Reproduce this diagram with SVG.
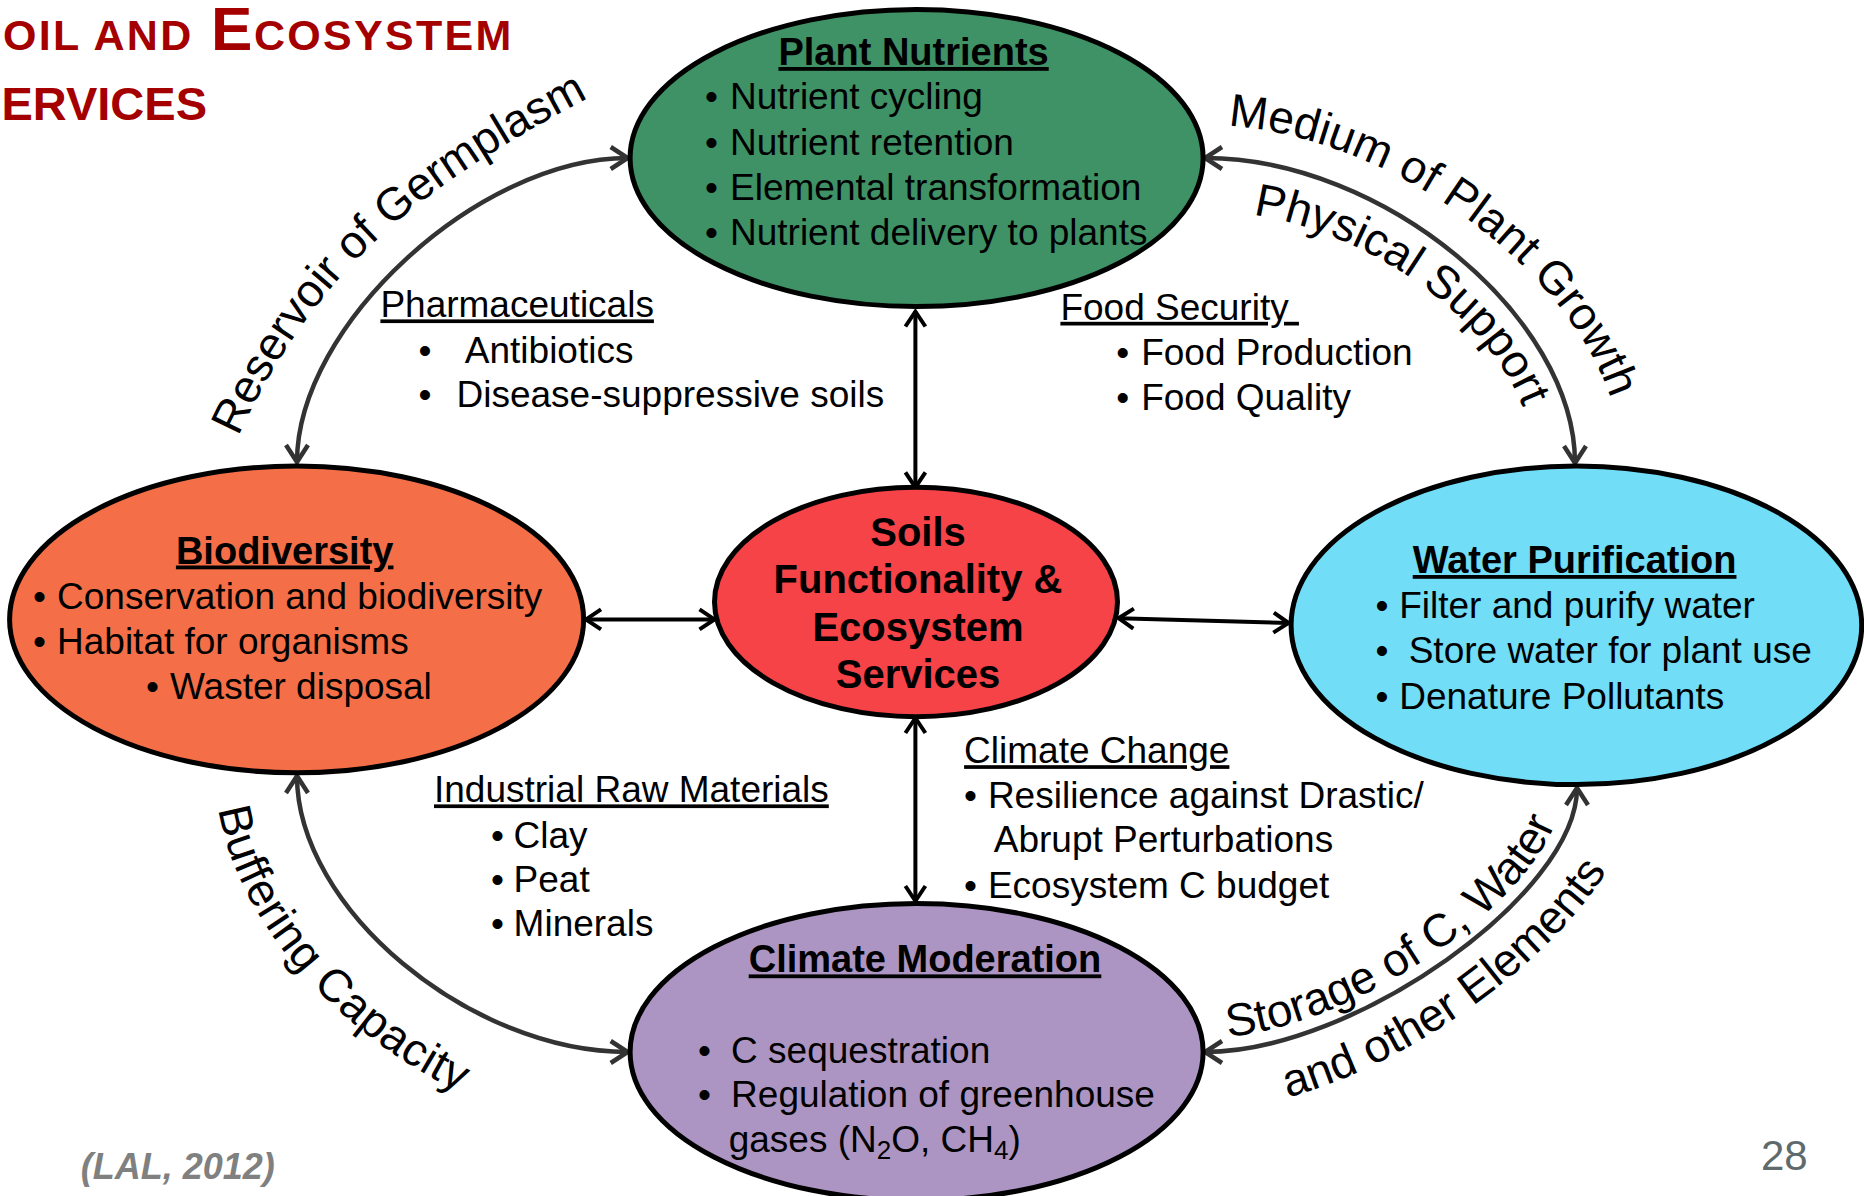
<svg xmlns="http://www.w3.org/2000/svg" width="1864" height="1196" viewBox="0 0 1864 1196">
  <style>
    text { font-family: "Liberation Sans", Arial, sans-serif; }
    .t { font-size: 37px; fill: #000; }
    .h { font-size: 38px; font-weight: bold; text-decoration: underline; text-anchor: middle; }
    .u { text-decoration: underline; }
    .core { font-size: 40px; font-weight: bold; text-anchor: middle; }
    .ttl { font-weight: bold; fill: #A50000; }
    .big { font-size: 62px; }
    .sc { font-size: 43px; letter-spacing: 2.3px; }
    .node { stroke: #000; stroke-width: 5; }
    .conn { fill: none; stroke: #333; stroke-width: 4.5; marker-start: url(#arrGray); marker-end: url(#arrGray); }
    .link { fill: none; stroke: #000; stroke-width: 4; marker-start: url(#arrBlack); marker-end: url(#arrBlack); }
    .arc { font-size: 46px; fill: #000; }
  </style>
  <defs>
    <marker id="arrGray" markerUnits="userSpaceOnUse" markerWidth="40" markerHeight="40" viewBox="-24 -20 40 40" refX="0" refY="0" orient="auto-start-reverse" overflow="visible">
      <path d="M-17,-11 L0,0 L-17,11" fill="none" stroke="#333" stroke-width="4.5" stroke-linejoin="miter"/>
    </marker>
    <marker id="arrBlack" markerUnits="userSpaceOnUse" markerWidth="40" markerHeight="40" viewBox="-24 -20 40 40" refX="0" refY="0" orient="auto-start-reverse" overflow="visible">
      <path d="M-15,-10 L0,0 L-15,10" fill="none" stroke="#000" stroke-width="4" stroke-linejoin="miter"/>
    </marker>
    <!-- baselines for the curved labels -->
    <path id="pGerm" d="M238,437 C318,265 422,186 590,97"/>
    <path id="pMedium" d="M1205,125 C1398,125 1622,301 1622,463"/>
    <path id="pPhys" d="M1205,211 C1363,211 1534,340 1534,463"/>
    <path id="pBuff" d="M216,776 C216,947 430,1133 628,1133"/>
    <path id="pStore" d="M1205,1038 C1349,1038 1563,889 1563,788"/>
    <path id="pOther" d="M1205,1110 C1377,1110 1635,917 1635,788"/>
  </defs>

  <rect width="1864" height="1196" fill="#fff"/>

  <!-- slide title, running off the left edge -->
  <g id="title">
    <text class="ttl big" x="-42" y="50">S</text>
    <text class="ttl sc" x="3" y="50">OIL AND</text>
    <text class="ttl big" x="211" y="50">E</text>
    <text class="ttl sc" x="254" y="50">COSYSTEM</text>
    <text class="ttl" x="-33" y="120" font-size="47">S</text>
    <text class="ttl" x="1.5" y="120" font-size="47">ERVICES</text>
  </g>

  <!-- connectors -->
  <g id="connectors">
    <path class="conn" d="M297,462 C297,325 479,158 627.7,158"/>
    <path class="conn" d="M1205,158 C1383,158 1575,317 1575,463"/>
    <path class="conn" d="M297,776 C297,908 469,1052 627.7,1052"/>
    <path class="conn" d="M1205,1052 C1354,1052 1577,894 1577,788"/>
    <line class="link" x1="915.4" y1="311.5" x2="915.4" y2="487.4"/>
    <line class="link" x1="915.4" y1="718" x2="915.4" y2="901"/>
    <line class="link" x1="586" y1="619.4" x2="714.5" y2="619.4"/>
    <line class="link" x1="1118.6" y1="618.2" x2="1288.6" y2="623"/>
    <text class="arc"><textPath href="#pGerm" startOffset="0">Reservoir of Germplasm</textPath></text>
    <text class="arc"><textPath href="#pMedium" startOffset="23">Medium of Plant Growth</textPath></text>
    <text class="arc"><textPath href="#pPhys" startOffset="48">Physical Support</textPath></text>
    <text class="arc" font-size="50" letter-spacing="0.6"><textPath href="#pBuff" startOffset="33">Buffering Capacity</textPath></text>
    <text class="arc"><textPath href="#pStore" startOffset="23">Storage of C, Water</textPath></text>
    <text class="arc"><textPath href="#pOther" startOffset="84">and other Elements</textPath></text>
  </g>

  <!-- Plant Nutrients -->
  <g id="plant-nutrients">
    <ellipse class="node" cx="916.6" cy="158" rx="286.5" ry="148.6" fill="#3E9265"/>
    <text class="h" x="913.6" y="65">Plant Nutrients</text>
    <text class="t"><tspan x="705" y="109">•</tspan><tspan x="730" y="109">Nutrient cycling</tspan></text>
    <text class="t"><tspan x="705" y="154.5">•</tspan><tspan x="730" y="154.5">Nutrient retention</tspan></text>
    <text class="t"><tspan x="705" y="200">•</tspan><tspan x="730" y="200">Elemental transformation</tspan></text>
    <text class="t"><tspan x="705" y="245">•</tspan><tspan x="730" y="245">Nutrient delivery to plants</tspan></text>
  </g>

  <!-- Biodiversity -->
  <g id="biodiversity">
    <ellipse class="node" cx="296.6" cy="619.4" rx="287" ry="153.4" fill="#F46F47"/>
    <text class="h" x="284.7" y="563.5">Biodiversity</text>
    <text class="t"><tspan x="33" y="608.7">•</tspan><tspan x="57" y="608.7">Conservation and biodiversity</tspan></text>
    <text class="t"><tspan x="33" y="653.8">•</tspan><tspan x="57" y="653.8">Habitat for organisms</tspan></text>
    <text class="t"><tspan x="146" y="699">•</tspan><tspan x="170" y="699">Waster disposal</tspan></text>
  </g>

  <!-- central node -->
  <g id="soil-functionality">
    <ellipse class="node" cx="916" cy="602" rx="201.5" ry="114.7" fill="#F54348"/>
    <text class="core" x="918" y="545.7">Soils</text>
    <text class="core" x="918" y="593.2">Functionality &amp;</text>
    <text class="core" x="918" y="640.8">Ecosystem</text>
    <text class="core" x="918" y="688.3">Services</text>
  </g>

  <!-- Water Purification -->
  <g id="water-purification">
    <ellipse class="node" cx="1576.4" cy="625.3" rx="285.3" ry="159.3" fill="#72DDF7"/>
    <text class="h" x="1574.6" y="573">Water Purification</text>
    <text class="t"><tspan x="1375.4" y="618">•</tspan><tspan x="1399.2" y="618">Filter and purify water</tspan></text>
    <text class="t"><tspan x="1375.4" y="663">•</tspan><tspan x="1408.7" y="663">Store water for plant use</tspan></text>
    <text class="t"><tspan x="1375.4" y="708.5">•</tspan><tspan x="1399.2" y="708.5">Denature Pollutants</tspan></text>
  </g>

  <!-- Climate Moderation -->
  <g id="climate-moderation">
    <ellipse class="node" cx="916.6" cy="1052" rx="286.5" ry="148.5" fill="#AC95C2"/>
    <text class="h" x="925" y="972.4">Climate Moderation</text>
    <text class="t"><tspan x="698" y="1062.8">•</tspan><tspan x="731.1" y="1062.8">C sequestration</tspan></text>
    <text class="t"><tspan x="698" y="1106.8">•</tspan><tspan x="731.1" y="1106.8">Regulation of greenhouse</tspan></text>
    <text class="t" x="728.7" y="1152">gases (N<tspan font-size="26" dy="7">2</tspan><tspan dy="-7">O, CH</tspan><tspan font-size="26" dy="7">4</tspan><tspan dy="-7">)</tspan></text>
  </g>

  <!-- side notes between the nodes -->
  <g id="pharmaceuticals">
    <text class="t u" x="380.4" y="317.4">Pharmaceuticals</text>
    <text class="t"><tspan x="418.4" y="362.6">•</tspan><tspan x="464.8" y="362.6">Antibiotics</tspan></text>
    <text class="t"><tspan x="418.4" y="406.6">•</tspan><tspan x="456.5" y="406.6">Disease-suppressive soils</tspan></text>
  </g>

  <g id="food-security">
    <text class="t u" x="1060.4" y="319.8">Food Security&#160;</text>
    <text class="t"><tspan x="1116.2" y="365">•</tspan><tspan x="1141.2" y="365">Food Production</tspan></text>
    <text class="t"><tspan x="1116.2" y="410">•</tspan><tspan x="1141.2" y="410">Food Quality</tspan></text>
  </g>

  <g id="industrial-raw-materials">
    <text class="t u" x="434" y="802.4">Industrial Raw Materials</text>
    <text class="t"><tspan x="491" y="847.6">•</tspan><tspan x="513.6" y="847.6">Clay</tspan></text>
    <text class="t"><tspan x="491" y="891.6">•</tspan><tspan x="513.6" y="891.6">Peat</tspan></text>
    <text class="t"><tspan x="491" y="935.6">•</tspan><tspan x="513.6" y="935.6">Minerals</tspan></text>
  </g>

  <g id="climate-change">
    <text class="t u" x="964.1" y="763.2">Climate Change</text>
    <text class="t"><tspan x="964" y="808.4">•</tspan><tspan x="987.9" y="808.4">Resilience against Drastic/</tspan></text>
    <text class="t" x="993.8" y="852.4">Abrupt Perturbations</text>
    <text class="t"><tspan x="964" y="897.5">•</tspan><tspan x="987.9" y="897.5">Ecosystem C budget</tspan></text>
  </g>

  <!-- footer -->
  <g id="footer">
    <text x="80.8" y="1179" font-size="36" font-weight="bold" font-style="italic" fill="#808080">(LAL, 2012)</text>
    <text x="1761" y="1170" font-size="42" fill="#5E6A6B">28</text>
  </g>
</svg>
